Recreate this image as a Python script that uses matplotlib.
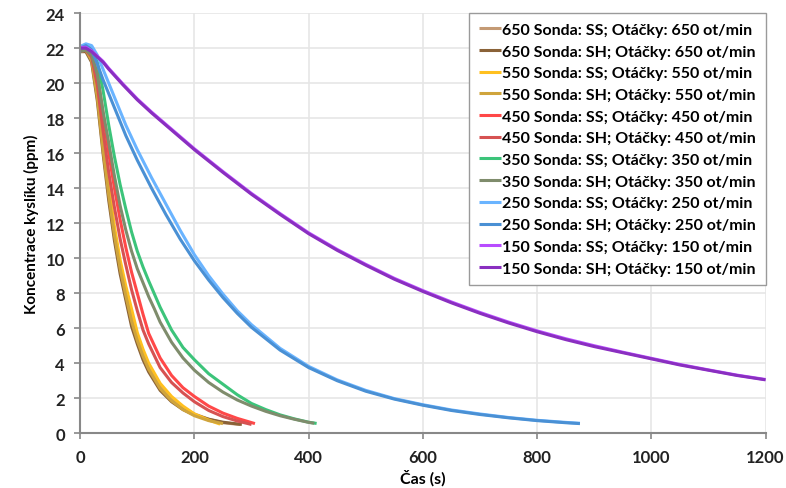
import matplotlib
matplotlib.use("Agg")
import matplotlib.pyplot as plt

plt.rcParams['font.family'] = ['Lato', 'DejaVu Sans']
plt.rcParams['font.weight'] = 'bold'

# casy (s) a koncentrace (ppm)
t_650_ss = [0, 10, 20, 30, 40, 50, 60, 70, 80, 90, 100, 110, 120, 140, 160, 180, 200, 225, 250, 280]
c_650_ss = [21.9, 21.9, 21.4, 19.4, 16.5, 13.8, 11.5, 9.6, 8.0, 6.6, 5.5, 4.6, 3.85, 2.7, 1.95, 1.45, 1.1, 0.8, 0.6, 0.5]
t_650_sh = [0, 10, 20, 30, 40, 50, 60, 70, 80, 90, 100, 110, 120, 140, 160, 180, 200, 225, 250, 283]
c_650_sh = [21.8, 21.8, 21.2, 19.0, 16.0, 13.3, 11.0, 9.1, 7.6, 6.1, 5.1, 4.2, 3.5, 2.45, 1.8, 1.35, 1.05, 0.8, 0.63, 0.5]

t_550_ss = [0, 10, 20, 30, 40, 50, 60, 70, 80, 90, 100, 110, 120, 140, 160, 180, 200, 225, 245]
c_550_ss = [21.9, 21.9, 21.5, 19.8, 16.9, 14.2, 11.8, 9.9, 8.4, 7.1, 5.75, 4.8, 4.0, 2.85, 2.1, 1.55, 1.1, 0.75, 0.52]
t_550_sh = [0, 10, 20, 30, 40, 50, 60, 70, 80, 90, 100, 110, 120, 140, 160, 180, 200, 225, 250]
c_550_sh = [21.8, 21.9, 21.3, 19.2, 16.2, 13.6, 11.3, 9.4, 7.85, 6.4, 5.3, 4.4, 3.65, 2.55, 1.85, 1.35, 1.0, 0.72, 0.55]

t_450_ss = [0, 10, 20, 30, 40, 50, 60, 70, 80, 90, 100, 110, 120, 140, 160, 180, 200, 225, 250, 275, 306]
c_450_ss = [21.9, 22.0, 21.7, 20.5, 18.3, 16.0, 14.0, 12.2, 10.6, 9.2, 8.0, 6.8, 5.7, 4.3, 3.3, 2.6, 2.1, 1.55, 1.15, 0.85, 0.55]
t_450_sh = [0, 10, 20, 30, 40, 50, 60, 70, 80, 90, 100, 110, 120, 140, 160, 180, 200, 225, 250, 275, 300]
c_450_sh = [21.8, 21.9, 21.5, 19.9, 17.3, 14.9, 12.9, 11.1, 9.6, 8.2, 7.0, 5.9, 5.1, 3.75, 2.9, 2.3, 1.8, 1.3, 0.95, 0.7, 0.5]

t_350_ss = [0, 10, 20, 30, 40, 50, 60, 70, 80, 90, 100, 110, 120, 130, 140, 160, 180, 200, 225, 250, 275, 300, 325, 350, 375, 400, 414]
c_350_ss = [21.9, 22.1, 22.0, 21.2, 19.6, 17.6, 15.8, 14.2, 12.8, 11.5, 10.4, 9.5, 8.7, 7.95, 7.2, 5.9, 4.9, 4.2, 3.4, 2.8, 2.2, 1.7, 1.35, 1.05, 0.82, 0.63, 0.56]
t_350_sh = [0, 10, 20, 30, 40, 50, 60, 70, 80, 90, 100, 110, 120, 130, 140, 160, 180, 200, 225, 250, 275, 300, 325, 350, 375, 400, 410]
c_350_sh = [21.8, 21.9, 21.6, 20.5, 18.4, 16.6, 14.7, 13.0, 11.6, 10.4, 9.4, 8.6, 7.8, 7.1, 6.35, 5.2, 4.3, 3.6, 2.9, 2.35, 1.9, 1.55, 1.25, 1.0, 0.8, 0.62, 0.57]

t_250 = [0, 10, 20, 30, 40, 50, 60, 70, 80, 90, 100, 125, 150, 175, 200, 225, 250, 275, 300, 350, 400, 450, 500, 550, 600, 650, 700, 750, 800, 850, 875]
c_250_ss = [22.1, 22.25, 22.15, 21.6, 20.8, 20.0, 19.2, 18.4, 17.6, 16.9, 16.2, 14.6, 13.1, 11.6, 10.2, 9.0, 7.95, 7.0, 6.2, 4.85, 3.82, 3.05, 2.45, 1.98, 1.63, 1.33, 1.1, 0.9, 0.74, 0.62, 0.57]
c_250_sh = [22.0, 22.15, 21.9, 21.1, 20.2, 19.4, 18.6, 17.8, 17.0, 16.3, 15.6, 14.0, 12.5, 11.1, 9.85, 8.75, 7.75, 6.85, 6.05, 4.75, 3.75, 3.0, 2.4, 1.95, 1.6, 1.3, 1.07, 0.88, 0.72, 0.6, 0.55]

t_150 = [0, 10, 20, 30, 40, 50, 75, 100, 125, 150, 175, 200, 250, 300, 350, 400, 450, 500, 550, 600, 650, 700, 750, 800, 850, 900, 950, 1000, 1050, 1100, 1150, 1200]
c_150_ss = [22.05, 22.05, 21.85, 21.55, 21.25, 20.85, 19.95, 19.1, 18.35, 17.65, 16.95, 16.25, 14.95, 13.7, 12.55, 11.45, 10.5, 9.65, 8.85, 8.15, 7.5, 6.9, 6.35, 5.85, 5.4, 5.0, 4.63, 4.28, 3.93, 3.62, 3.32, 3.07]
c_150_sh = [22.0, 22.0, 21.8, 21.5, 21.2, 20.8, 19.9, 19.05, 18.3, 17.6, 16.9, 16.2, 14.9, 13.65, 12.5, 11.4, 10.45, 9.6, 8.8, 8.1, 7.45, 6.85, 6.3, 5.8, 5.35, 4.95, 4.6, 4.25, 3.9, 3.6, 3.3, 3.05]

series = [
    ("650 Sonda: SS; Otáčky: 650 ot/min", t_650_ss, c_650_ss, "#c49a74"),
    ("650 Sonda: SH; Otáčky: 650 ot/min", t_650_sh, c_650_sh, "#8a6238"),
    ("550 Sonda: SS; Otáčky: 550 ot/min", t_550_ss, c_550_ss, "#ffc020"),
    ("550 Sonda: SH; Otáčky: 550 ot/min", t_550_sh, c_550_sh, "#cfa43c"),
    ("450 Sonda: SS; Otáčky: 450 ot/min", t_450_ss, c_450_ss, "#ff4848"),
    ("450 Sonda: SH; Otáčky: 450 ot/min", t_450_sh, c_450_sh, "#d65252"),
    ("350 Sonda: SS; Otáčky: 350 ot/min", t_350_ss, c_350_ss, "#3cc47a"),
    ("350 Sonda: SH; Otáčky: 350 ot/min", t_350_sh, c_350_sh, "#7f8c6c"),
    ("250 Sonda: SS; Otáčky: 250 ot/min", t_250, c_250_ss, "#6ab4ff"),
    ("250 Sonda: SH; Otáčky: 250 ot/min", t_250, c_250_sh, "#4a90d4"),
    ("150 Sonda: SS; Otáčky: 150 ot/min", t_150, c_150_ss, "#b84cff"),
    ("150 Sonda: SH; Otáčky: 150 ot/min", t_150, c_150_sh, "#8a2fc0"),
]

fig = plt.figure(figsize=(7.86, 4.89), dpi=100)
ax = fig.add_axes([0.102, 0.112, 0.872, 0.859])

for lab, t, c, col in series:
    ax.plot(t, c, color=col, lw=2.2, label=lab, solid_capstyle='butt')

ax.set_xlim(0, 1200)
ax.set_ylim(0, 24)
ax.set_xticks(range(0, 1201, 200))
ax.set_yticks(range(0, 25, 2))
ax.grid(True, color='#e6e6e6', lw=1.2)
ax.set_axisbelow(True)
for s in ['top', 'right']:
    ax.spines[s].set_visible(False)
for s in ['left', 'bottom']:
    ax.spines[s].set_color('#888888')
    ax.spines[s].set_linewidth(1.5)
ax.tick_params(colors='#888888', labelcolor='#222222', labelsize=12, length=4, width=1.2)
ax.tick_params(axis='x', pad=7)
ax.tick_params(axis='y', pad=7)
ax.set_xlabel("Čas (s)", fontsize=11.5, fontweight='bold', labelpad=3, x=0.5)
ax.set_ylabel("Koncentrace kyslíku (ppm)", fontsize=11, fontweight='bold', labelpad=5)

leg = ax.legend(loc='upper right', bbox_to_anchor=(1.0, 1.0), fontsize=11.5, handlelength=1.4,
                handletextpad=0.05, labelspacing=0.47, borderaxespad=0, fancybox=False,
                framealpha=1, borderpad=0.6)
leg.get_frame().set_edgecolor('#9a9a9a')
leg.get_frame().set_linewidth(1.0)

fig.savefig("out.png", dpi=100)
